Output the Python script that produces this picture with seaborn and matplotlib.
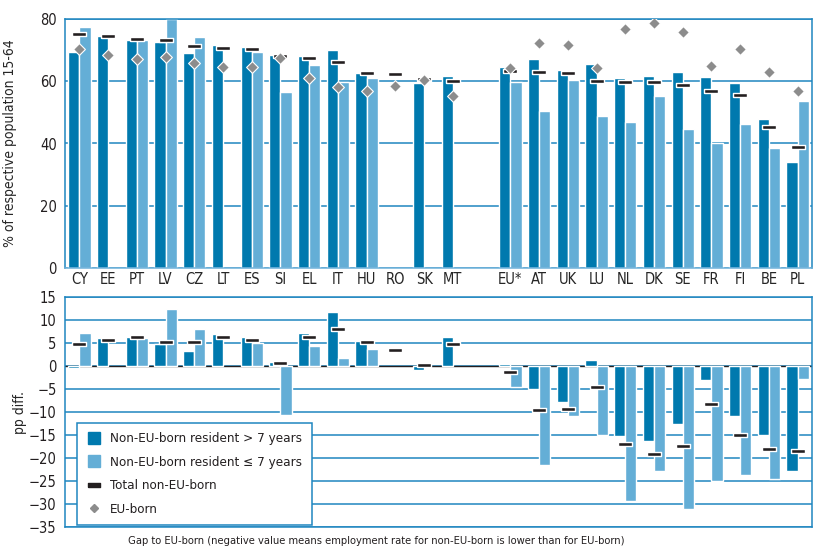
import numpy as np
import pandas as pd
import seaborn as sns
import matplotlib
matplotlib.use("Agg")
import matplotlib.pyplot as plt
from matplotlib.lines import Line2D
from matplotlib import font_manager as fm

nan = np.nan
countries = ["CY", "EE", "PT", "LV", "CZ", "LT", "ES", "SI", "EL", "IT", "HU", "RO", "SK", "MT", " ",
             "EU*", "AT", "UK", "LU", "NL", "DK", "SE", "FR", "FI", "BE", "PL"]

# Employment rates (% of respective population 15-64)
long_res = [69.5, 74.6, 73.3, 72.6, 69.2, 71.6, 70.9, 68.5, 68.2, 69.9, 62.8, nan, 59.4, 61.8, nan,
            64.7, 67.1, 63.5, 65.5, 61.1, 61.7, 62.9, 61.5, 59.3, 47.9, 33.9]
short_res = [77.4, nan, 73.3, 80.0, 74.1, nan, 69.5, 56.6, 65.1, 59.9, 61.0, nan, nan, nan, nan,
             59.7, 50.5, 60.5, 48.9, 47.0, 55.2, 44.7, 40.0, 46.3, 38.5, 53.8]
total_non_eu = [75.1, 74.4, 73.6, 73.1, 71.4, 70.8, 70.3, 68.2, 67.4, 66.1, 62.6, 62.4, 60.7, 60.1, nan,
                63.4, 63.0, 62.6, 60.0, 59.8, 59.6, 58.8, 56.9, 55.5, 45.2, 38.8]
eu_born = [70.3, 68.5, 67.2, 67.7, 65.9, 64.6, 64.7, 67.5, 61.0, 58.1, 57.0, 58.6, 60.5, 55.3, nan,
           64.2, 72.2, 71.8, 64.2, 76.7, 78.6, 75.9, 65.0, 70.4, 63.0, 57.0]

# Gap to EU-born (pp)
gap_long = [-0.4, 6.0, 6.2, 4.8, 3.3, 7.0, 6.4, 0.9, 7.2, 11.8, 5.4, nan, -0.8, 6.3, nan,
            0.5, -5.0, -7.8, 1.3, -15.3, -16.4, -12.7, -3.1, -10.8, -14.9, -22.8]
gap_short = [7.2, nan, 6.0, 12.3, 8.1, nan, 5.0, -10.6, 4.3, 1.8, 3.8, nan, nan, nan, nan,
             -4.6, -21.6, -10.9, -15.1, -29.4, -22.9, -31.0, -24.9, -23.8, -24.5, -2.8]
gap_total = [4.7, 5.7, 6.3, 5.3, 5.3, 6.2, 5.6, 0.6, 6.4, 8.0, 5.3, 3.5, 0.2, 4.7, nan,
             -1.3, -9.6, -9.3, -4.5, -17.0, -19.1, -17.3, -8.3, -14.9, -18.0, -18.4]

groups = ["Non-EU-born resident > 7 years", "Non-EU-born resident \u2264 7 years"]
DARK = "#0079AE"
LIGHT = "#64AED6"
BLUE = "#1F86C0"
GRAY = "#8C8C8C"
BLACK = "#231F20"
palette = {groups[0]: DARK, groups[1]: LIGHT}

sns.set_theme(style="white")
names = {f.name for f in fm.fontManager.ttflist}
condensed = any("Condensed" in f.fname and "DejaVuSans" in f.fname for f in fm.fontManager.ttflist)
if "Liberation Sans Narrow" in names:
    plt.rcParams["font.family"] = ["Liberation Sans Narrow", "DejaVu Sans"]
    FS = 11
    XL = 9.5
else:
    plt.rcParams["font.family"] = ["DejaVu Sans"]
    if condensed:
        plt.rcParams["font.stretch"] = "condensed"
        FS = 10
        XL = 8.0
    else:
        FS = 9.5
        XL = 7.2
plt.rcParams["text.color"] = "#231F20"

df_top = pd.DataFrame({"country": countries * 2,
                       "group": [groups[0]] * len(countries) + [groups[1]] * len(countries),
                       "value": long_res + short_res})
df_gap = pd.DataFrame({"country": countries * 2,
                       "group": [groups[0]] * len(countries) + [groups[1]] * len(countries),
                       "value": gap_long + gap_short})
df_pts = pd.DataFrame({"country": countries, "total": total_non_eu, "eu": eu_born, "gap_total": gap_total})

fig = plt.figure(figsize=(8.14, 5.52), dpi=100)
ax1 = fig.add_axes([65 / 814, 1 - 268 / 552, 747 / 814, 249 / 552])
ax2 = fig.add_axes([65 / 814, 1 - 527 / 552, 747 / 814, 230 / 552])

dash = [(-1, -0.32), (1, -0.32), (1, 0.32), (-1, 0.32), (-1, -0.32)]

for ax, df, ycol in [(ax1, df_top, "total"), (ax2, df_gap, "gap_total")]:
    ax.set_axisbelow(True)
    sns.barplot(data=df, x="country", y="value", hue="group", order=countries, hue_order=groups,
                palette=palette, saturation=1, width=0.78, edgecolor="white", linewidth=1.0,
                errorbar=None, legend=False, ax=ax, zorder=2)
    sns.stripplot(data=df_pts, x="country", y=ycol, order=countries, jitter=False, marker=dash,
                  size=10, color=BLACK, edgecolor="white", linewidth=1.0, ax=ax, zorder=5)

sns.stripplot(data=df_pts, x="country", y="eu", order=countries, jitter=False, marker="D",
              size=6, color=GRAY, edgecolor="white", linewidth=0.8, ax=ax1, zorder=6)

# axes styling
for ax in (ax1, ax2):
    ax.set_xlim(-0.5, len(countries) - 0.5)
    ax.set_xlabel("")
    ax.yaxis.grid(True, color=BLUE, linewidth=1.1)
    ax.xaxis.grid(False)
    for s in ax.spines.values():
        s.set_color(BLUE)
        s.set_linewidth(1.1)
    ax.tick_params(axis="y", length=3, color=BLUE, labelsize=FS + 0.5, pad=3, labelcolor="#231F20")

ax1.set_ylim(0, 80)
ax1.set_yticks([0, 20, 40, 60, 80])
ax1.spines["bottom"].set_color("#6FB2DA")
ax1.set_xticks(range(len(countries)))
ax1.set_xticklabels(countries, fontsize=FS + 0.5)
ax1.tick_params(axis="x", which="major", length=0, pad=3)
ax1.set_xticks(np.arange(-0.5, len(countries), 1.0), minor=True)
ax1.tick_params(axis="x", which="minor", direction="inout", length=7, color="#555555", width=0.8)
ax1.set_ylabel("% of respective population 15-64", fontsize=FS)
ax1.yaxis.set_label_coords(-0.064, 0.5)

ax2.set_ylim(-35, 15)
ax2.set_yticks(np.arange(-35, 16, 5))
ax2.set_xticks([])
ax2.axhline(0, color="#231F20", linewidth=1.0, zorder=1)
ax2.set_ylabel("pp diff.", fontsize=FS)
ax2.yaxis.set_label_coords(-0.051, 0.5)

fig.text(376 / 814, 1 - 541 / 552,
         "Gap to EU-born (negative value means employment rate for non-EU-born is lower than for EU-born)",
         ha="center", va="center", fontsize=XL)

handles = [
    Line2D([], [], linestyle="none", marker="s", markersize=8, color=DARK),
    Line2D([], [], linestyle="none", marker="s", markersize=8, color=LIGHT),
    Line2D([], [], linestyle="none", marker=dash, markersize=9, color=BLACK),
    Line2D([], [], linestyle="none", marker="D", markersize=4, color=GRAY),
]
labels = groups + ["Total non-EU-born", "EU-born"]
leg = ax2.legend(handles, labels, loc="lower left", bbox_to_anchor=(0.016, 0.009), borderaxespad=0,
                 frameon=True, fancybox=False, framealpha=1, edgecolor=BLUE, fontsize=FS - 0.4,
                 handletextpad=0.6, labelspacing=0.78, borderpad=0.7, handlelength=1.2)
leg.get_frame().set_linewidth(1.1)
leg.set_zorder(10)

fig.savefig("out.png", dpi=100)
